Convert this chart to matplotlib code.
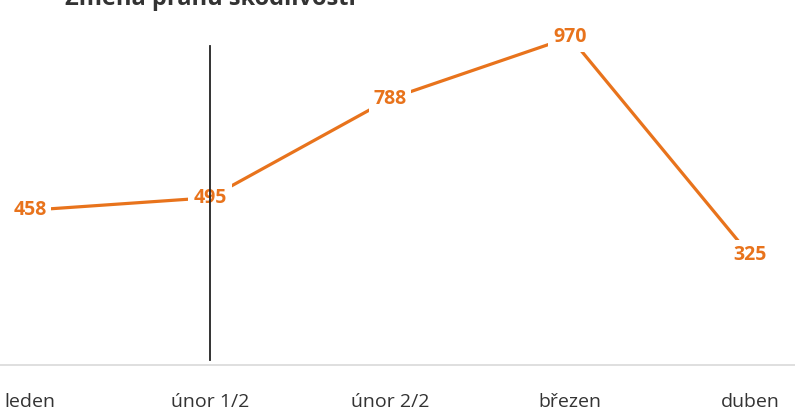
import matplotlib
matplotlib.use("Agg")
from matplotlib import pyplot as plt

months = ['leden', 'únor 1/2', 'únor 2/2', 'březen', 'duben']
values = [458, 495, 788, 970, 325]
marker_x = 1
marker_y = [15, 945]

plt.rcParams['font.family'] = ['Open Sans', 'DejaVu Sans']
orange = '#E8731C'

fig = plt.figure(figsize=(7.95, 4.16), dpi=100)
ax = fig.add_axes([0, 51 / 416, 1, 365 / 416])

x = list(range(len(months)))
ax.plot(x, values, color=orange, linewidth=2.3, solid_capstyle='butt', zorder=2)
for xi, v in zip(x, values):
    ax.text(xi, v, str(v), color=orange, fontsize=14, fontweight='bold',
            ha='center', va='center', zorder=3,
            bbox=dict(boxstyle='square,pad=0.25', fc='white', ec='none'))

ax.plot([marker_x, marker_x], marker_y, color='#222222', linewidth=1.3, zorder=4)

ax.set_xlim(-30 / 180, 765 / 180)
ax.set_ylim(0, 1080)
ax.set_xticks(x)
ax.set_xticklabels(months, fontsize=14, color='#333333')
ax.tick_params(axis='x', length=0, pad=20)
ax.set_yticks([])
for side in ['top', 'right', 'left']:
    ax.spines[side].set_visible(False)
ax.spines['bottom'].set_color('#D9D9D9')
ax.spines['bottom'].set_linewidth(1.2)

fig.text(210 / 795, 1 - 5 / 416, 'Změna prahu škodlivosti', ha='center', va='baseline',
         fontsize=17, fontweight='bold', color='#333333')

fig.savefig('out.png', dpi=100)
